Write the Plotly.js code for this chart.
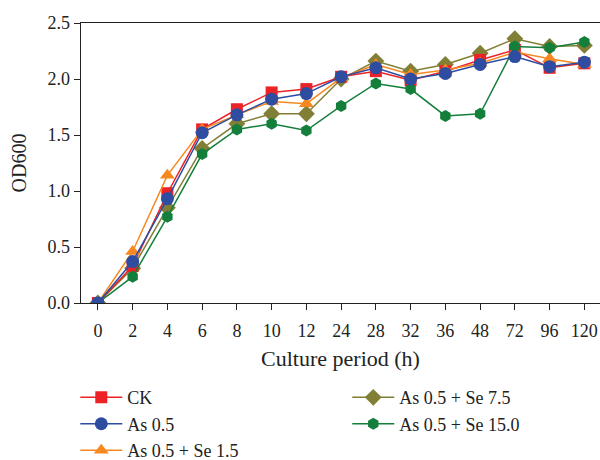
<!DOCTYPE html>
<html>
<head>
<meta charset="utf-8">
<script src="https://cdn.plot.ly/plotly-3.0.1.min.js"></script>
<style>html,body{margin:0;padding:0;background:#fff;}</style>
</head>
<body>
<div id="chart" style="width:600px;height:460px;"></div>
<script>
const hours = ["0","2","4","6","8","10","12","24","28","32","36","48","72","96","120"];
const ck      = [0, 0.33, 0.98, 1.55, 1.73, 1.88, 1.91, 2.02, 2.07, 1.99, 2.07, 2.17, 2.26, 2.10, 2.14];
const as05    = [0, 0.37, 0.93, 1.52, 1.68, 1.82, 1.87, 2.02, 2.10, 2.00, 2.05, 2.13, 2.20, 2.11, 2.15];
const se15    = [0, 0.46, 1.14, 1.55, 1.68, 1.80, 1.78, 2.01, 2.13, 2.04, 2.08, 2.14, 2.24, 2.18, 2.13];
const se75    = [0, 0.31, 0.85, 1.38, 1.60, 1.69, 1.69, 2.00, 2.16, 2.07, 2.13, 2.23, 2.36, 2.29, 2.30];
const se150   = [0, 0.235, 0.77, 1.33, 1.55, 1.60, 1.54, 1.76, 1.96, 1.91, 1.67, 1.69, 2.29, 2.28, 2.33];
const yTicks = [0, 0.5, 1.0, 1.5, 2.0, 2.5];

const FONT = "Liberation Serif, Times New Roman, serif";
function tr(name, y, color, symbol, size, legend, rank) {
  return {x: hours, y: y, name: name, type: 'scatter', mode: 'lines+markers',
    line: {color: color, width: 1.5},
    marker: {color: color, symbol: symbol, size: size},
    legend: legend, legendrank: rank};
}
const data = [
  tr("As 0.5 + Se 7.5", se75, "#817F35", "diamond", 13, "legend2", 4),
  tr("CK", ck, "#EC2227", "square", 12, "legend", 1),
  tr("As 0.5 + Se 1.5", se15, "#F7881F", "triangle-up", 13, "legend", 3),
  tr("As 0.5 + Se 15.0", se150, "#137F3B", "hexagon", 12, "legend2", 5),
  tr("As 0.5", as05, "#2E4DA1", "circle", 13, "legend", 2)
];
const legendBase = {font: {family: FONT, size: 18, color: "#222"}, bgcolor: "rgba(0,0,0,0)",
  orientation: "v", xanchor: "left", yanchor: "top", tracegroupgap: 0, itemwidth: 42};
const layout = {
  width: 600, height: 460,
  margin: {l: 81, r: 0, t: 23, b: 157, autoexpand: false},
  paper_bgcolor: "#fff", plot_bgcolor: "#fff",
  font: {family: FONT, size: 18, color: "#222"},
  xaxis: {type: "category", range: [-0.486, 14.45],
    showline: true, linecolor: "#222", linewidth: 1.3, mirror: true,
    ticks: "outside", ticklen: 6, tickcolor: "#222", showgrid: false, zeroline: false,
    ticklabelstandoff: 5,
    tickfont: {family: FONT, size: 18, color: "#222"},
    title: {text: "Culture period (h)", font: {family: FONT, size: 22, color: "#222"}, standoff: 10}},
  yaxis: {range: [0, 2.5], tickvals: yTicks, ticktext: yTicks.map(v => v.toFixed(1)),
    showline: true, linecolor: "#222", linewidth: 1.3,
    ticks: "outside", ticklen: 6, tickcolor: "#222", showgrid: false, zeroline: false,
    tickfont: {family: FONT, size: 18, color: "#222"},
    title: {text: "OD600", font: {family: FONT, size: 20, color: "#222"}, standoff: 15}},
  legend: Object.assign({}, legendBase, {x: -0.011, y: -0.272}),
  legend2: Object.assign({}, legendBase, {x: 0.513, y: -0.272}),
  showlegend: true
};
Plotly.newPlot("chart", data, layout, {displayModeBar: false, staticPlot: true});
</script>
</body>
</html>
